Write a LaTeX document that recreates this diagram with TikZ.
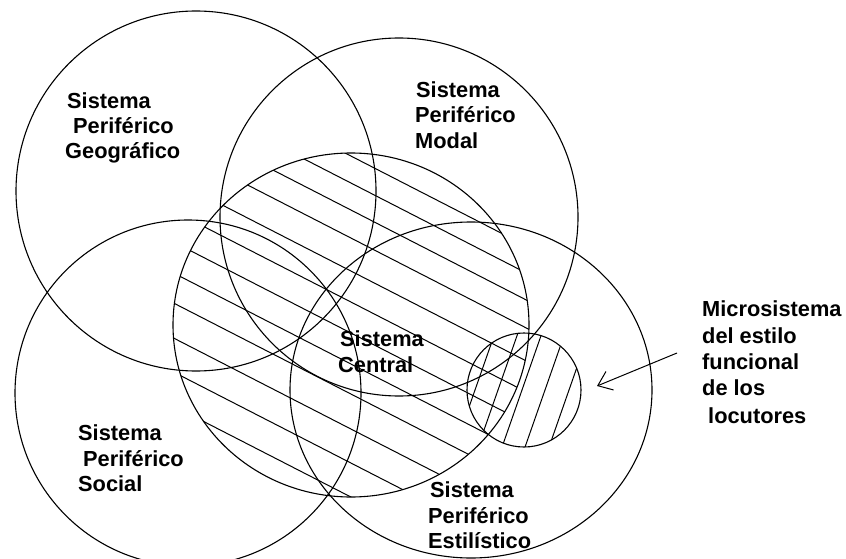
\documentclass[tikz,border=0pt]{standalone}
\usepackage{fontspec}
\setmainfont{Liberation Sans}
\usetikzlibrary{arrows.meta}
\begin{document}
\begin{tikzpicture}[x=1pt,y=-1pt,
  lbl/.style={anchor=base west, inner sep=0pt, text=black, font=\bfseries\fontsize{21.8}{25}\selectfont},
  ring/.style={draw=black, line width=1.1pt},
  hatch/.style={draw=black, line width=1pt},
  pointer/.style={draw=black, line width=1pt, -{Straight Barb[length=13pt,width=20pt]}}]
\useasboundingbox (0,0) rectangle (846,559);
\fill[white] (0,0) rectangle (846,559);
% hatching of the central system
\begin{scope}
  \clip (351,325) ellipse [x radius=178pt, y radius=172pt];
  \foreach \c in {-24,3,30,58,91,122,153,184,214,249,283,317}
    \draw[hatch] (150,{0.513*150+\c}) -- (560,{0.513*560+\c});
\end{scope}
% hatching of the microsystem
\begin{scope}
  \clip (524,390) circle [radius=57pt];
  \foreach \x in {475,498,522,545,569}
    \draw[hatch] ({\x+28},310) -- ({\x-28},470);
\end{scope}
% circles
\draw[ring] (196,191) circle [radius=180pt];
\draw[ring] (399,217) circle [radius=179pt];
\draw[ring] (188,393) circle [radius=173pt];
\draw[ring] (471,390) ellipse [x radius=181pt, y radius=168pt];
\draw[ring] (351,325) ellipse [x radius=178pt, y radius=172pt];
\draw[ring] (524,390) circle [radius=57pt];
% labels
\node[lbl] (g1) at (67,109) {Sistema};
\node[lbl] (g2) at (73,134) {Periférico};
\node[lbl] (g3) at (65,159) {Geográfico};
\node[lbl] (m1) at (416,98) {Sistema};
\node[lbl] (m2) at (415,123) {Periférico};
\node[lbl] (m3) at (415,149) {Modal};
\node[lbl] (c1) at (340,346) {Sistema};
\node[lbl] (c2) at (338,372) {Central};
\node[lbl] (s1) at (78,440) {Sistema};
\node[lbl] (s2) at (83,466) {Periférico};
\node[lbl] (s3) at (78,491) {Social};
\node[lbl] (e1) at (430,497) {Sistema};
\node[lbl] (e2) at (428,523) {Periférico};
\node[lbl] (e3) at (428,548) {Estilístico};
\node[lbl] (u1) at (702,316) {Microsistema};
\node[lbl] (u2) at (702,343) {del estilo};
\node[lbl] (u3) at (702,369) {funcional};
\node[lbl] (u4) at (702,395) {de los};
\node[lbl] (u5) at (708,423) {locutores};
% arrow
\coordinate (atail) at (677,353);
\coordinate (atip) at (597,386);
\draw[pointer] (atail) -- (atip);
\end{tikzpicture}
\end{document}
